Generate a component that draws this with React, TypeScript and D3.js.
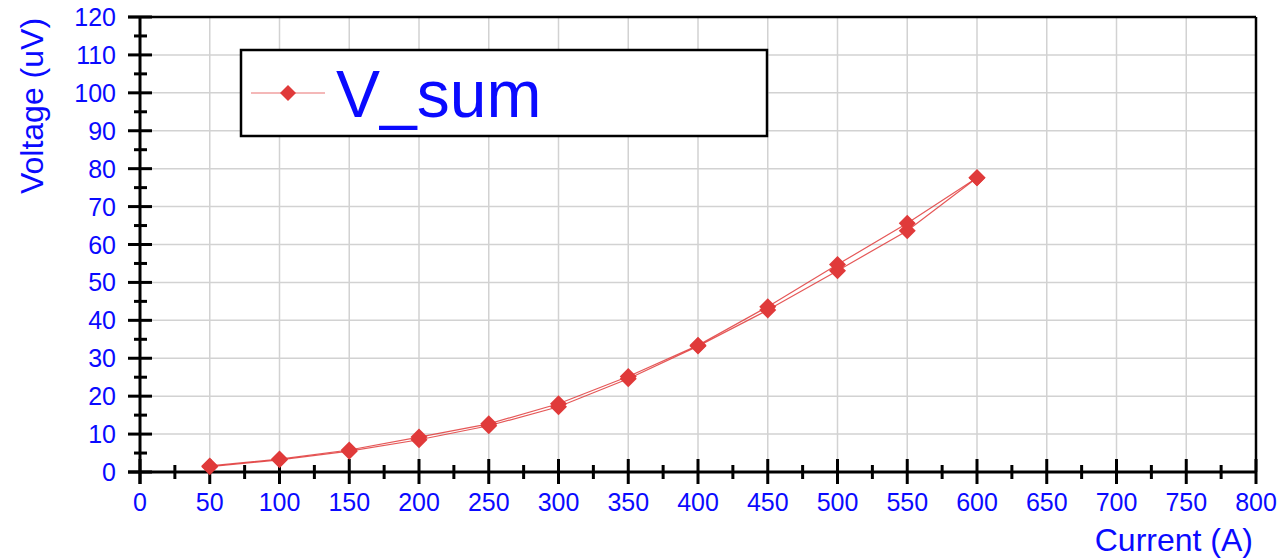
import React from "react";
import * as d3 from "d3";

// Sweep currents (A) and the two measured voltage traces (uV)
const currents = [50, 100, 150, 200, 250, 300, 350, 400, 450, 500, 550, 600];
const vSumLow = [1.4, 3.2, 5.5, 8.5, 12.2, 17.2, 24.6, 33.2, 42.7, 53.1, 63.6, 77.6];
const vSumHigh = [1.6, 3.4, 5.8, 9.2, 12.7, 18.0, 25.2, 33.4, 43.6, 54.7, 65.6, 77.6];

const xTicks = d3.range(0, 801, 50);
const xMinorTicks = d3.range(25, 800, 50);
const yTicks = d3.range(0, 121, 10);
const yMinorTicks = d3.range(5, 120, 10);

const seriesName = "V_sum";
const xTitle = "Current (A)";
const yTitle = "Voltage (uV)";

const W = 1281;
const H = 560;
const left = 140;
const right = 1256;
const top = 17;
const bottom = 472;

const BLUE = "#0a0aff";
const RED = "#e03a3a";
const FONT = "'Liberation Sans', Arial, sans-serif";

export default function App() {
  const x = d3.scaleLinear().domain([0, 800]).range([left, right]);
  const y = d3.scaleLinear().domain([0, 120]).range([bottom, top]);

  const line = d3
    .line<number>()
    .x((_, i) => x(currents[i]))
    .y((v) => y(v));

  const diamond = (cx: number, cy: number, r: number) =>
    `M${cx},${cy - r}L${cx + r},${cy}L${cx},${cy + r}L${cx - r},${cy}Z`;

  return (
    <svg
      width={W}
      height={H}
      style={{ position: "absolute", left: 0, top: 0, background: "#fff" }}
      fontFamily={FONT}
    >
      {/* grid */}
      <g stroke="#d2d2d2" strokeWidth={1.5}>
        {xTicks.slice(1, -1).map((t) => (
          <line key={"gx" + t} x1={x(t)} x2={x(t)} y1={top} y2={bottom} />
        ))}
        {yTicks.slice(1, -1).map((t) => (
          <line key={"gy" + t} x1={left} x2={right} y1={y(t)} y2={y(t)} />
        ))}
      </g>

      {/* frame */}
      <line x1={left - 12} x2={right} y1={top} y2={top} stroke="#000" strokeWidth={2.5} />
      <line x1={right} x2={right} y1={top} y2={bottom} stroke="#000" strokeWidth={2.5} />
      <line x1={left} x2={left} y1={top} y2={bottom + 12} stroke="#000" strokeWidth={3} />
      <line x1={left - 12} x2={right} y1={bottom} y2={bottom} stroke="#000" strokeWidth={3} />

      {/* ticks */}
      <g stroke="#000" strokeWidth={3}>
        {yTicks.map((t) => (
          <line key={"yt" + t} x1={left - 12} x2={left + 12} y1={y(t)} y2={y(t)} />
        ))}
        {yMinorTicks.map((t) => (
          <line key={"ym" + t} x1={left - 6} x2={left + 7} y1={y(t)} y2={y(t)} />
        ))}
        {xTicks.map((t) => (
          <line key={"xt" + t} x1={x(t)} x2={x(t)} y1={bottom - 13} y2={bottom + 12} />
        ))}
        {xMinorTicks.map((t) => (
          <line key={"xm" + t} x1={x(t)} x2={x(t)} y1={bottom - 7} y2={bottom + 7} />
        ))}
      </g>

      {/* tick labels */}
      <g fill={BLUE} fontSize={25}>
        {yTicks.map((t) => (
          <text key={"yl" + t} x={116} y={y(t)} textAnchor="end" dominantBaseline="central">
            {t}
          </text>
        ))}
        {xTicks.map((t) => (
          <text key={"xl" + t} x={x(t)} y={511} textAnchor="middle">
            {t}
          </text>
        ))}
      </g>

      {/* axis titles */}
      <text
        transform={`translate(43,106) rotate(-90)`}
        textAnchor="middle"
        fill={BLUE}
        fontSize={32}
      >
        {yTitle}
      </text>
      <text x={1253} y={551} textAnchor="end" fill={BLUE} fontSize={32}>
        {xTitle}
      </text>

      {/* data */}
      <g fill="none" stroke={RED} strokeWidth={1.2} strokeOpacity={0.85}>
        <path d={line(vSumLow) || ""} />
        <path d={line(vSumHigh) || ""} />
      </g>
      <g fill={RED}>
        {[vSumLow, vSumHigh].map((s, k) =>
          s.map((v, i) => (
            <path key={`m${k}-${i}`} d={diamond(x(currents[i]), y(v), 8.5)} />
          ))
        )}
      </g>

      {/* legend */}
      <rect x={241} y={50} width={526} height={86} fill="#fff" stroke="#000" strokeWidth={2.5} />
      <line x1={251} x2={325} y1={93} y2={93} stroke="#f0a0a0" strokeWidth={1.5} />
      <path d={diamond(288, 93, 8)} fill={RED} />
      <text x={336} y={117} fill={BLUE} fontSize={66}>
        {seriesName}
      </text>
    </svg>
  );
}
